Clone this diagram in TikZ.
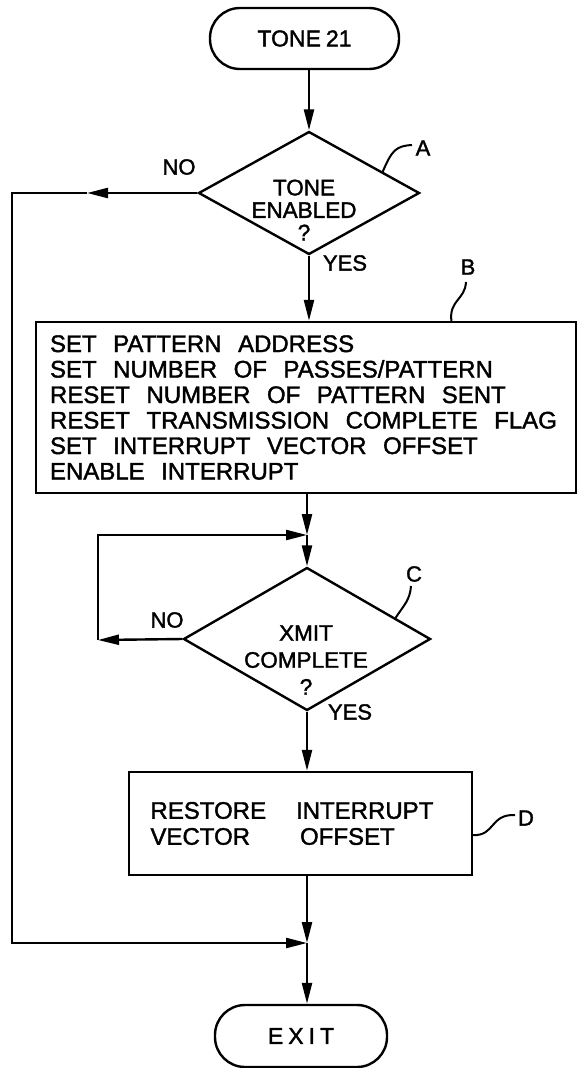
\documentclass[tikz,border=0pt]{standalone}
\usepackage{fontspec}
\setmainfont[FakeBold=1.6]{Liberation Sans}
\usetikzlibrary{arrows.meta,shapes.geometric,calc}
\newcommand{\widesp}{\spaceskip=16.5pt plus 4pt minus 2pt\relax}
\begin{document}
\begin{tikzpicture}[x=1pt,y=-1pt,line width=2.4pt,line join=miter,
  arr/.style={-{Triangle[length=21pt,width=10pt]}},
  term/.style={draw,rounded corners=30pt,inner sep=0pt,font=\fontsize{23}{26}\selectfont},
  dec/.style={draw,diamond,inner sep=0pt},
  dectext/.style={align=center,inner sep=0pt},
  proc/.style={draw,rectangle,align=left},
  lbl/.style={inner sep=0pt,font=\fontsize{22}{24}\selectfont},
  leader/.style={line width=2pt}]
\useasboundingbox (0,0) rectangle (580,1068);
% nodes
\node[term,minimum width=189pt,minimum height=61pt] (start) at (304.5,38.5) {TONE\hspace{5pt}21};
\node[dec,minimum width=221pt,minimum height=123pt] (A) at (309,193) {};
\node[dectext,font=\fontsize{22.5}{22.5}\selectfont] (At) at (304,210) {TONE\\ENABLED\\?};
\node[proc,minimum height=171pt,text width=512pt,inner xsep=14pt,inner ysep=0pt,
      font=\fontsize{24}{25.5}\selectfont] (B) at (306,407.5)
  {\widesp SET PATTERN ADDRESS\\
   SET NUMBER OF PASSES/PATTERN\\
   RESET NUMBER OF PATTERN SENT\\
   RESET TRANSMISSION COMPLETE FLAG\\
   SET INTERRUPT VECTOR OFFSET\\
   ENABLE INTERRUPT};
\coordinate (J1) at (307,535);
\node[dec,minimum width=247pt,minimum height=143pt] (C) at (307,639) {};
\node[dectext,font=\fontsize{22.5}{27}\selectfont] (Ct) at (306,660) {XMIT\\COMPLETE\\?};
\node[proc,minimum height=103pt,text width=300pt,inner xsep=21.5pt,inner ysep=0pt,
      font=\fontsize{24}{26}\selectfont] (D) at (300.5,823.5)
  {RESTORE\hspace{30pt}INTERRUPT\\VECTOR\hspace{50pt}OFFSET};
\coordinate (J2) at (307,943);
\node[term,minimum width=172pt,minimum height=62pt] (end) at (301,1036)
  {E\hspace{5pt}X\hspace{5pt}I\hspace{5pt}T};
% labels
\node[lbl] (noA) at (179,167) {NO};
\node[lbl] (yesA) at (345,263) {YES};
\node[lbl] (labA) at (423,148) {A};
\node[lbl] (labB) at (468,267) {B};
\node[lbl] (noC) at (167,620) {NO};
\node[lbl] (yesC) at (350,712) {YES};
\node[lbl] (labC) at (414,574) {C};
\node[lbl] (labD) at (526,818) {D};
% helper coordinates
\coordinate (nA) at (87,193);
\coordinate (ltop) at (12,193);
\coordinate (lbot) at (12,943);
\coordinate (cC) at (98,640);
\coordinate (cCtop) at (98,535);
% connectors
\draw[arr] (start.south -| A.north) -- (A.north);
\draw[arr] (A.south) -- (A.south |- B.north);
\draw[arr] (B.south -| J1) -- (J1);
\draw[arr] (J1) -- (C.north);
\draw[arr] (C.west) -- (cC);
\draw[arr] (cC) -- (cCtop) -- (J1);
\draw[arr] (C.south) -- (C.south |- D.north);
\draw[arr] (D.south -| J2) -- (J2);
\draw[arr] (J2) -- (J2 |- end.north);
\draw[arr] (A.west) -- (nA);
\draw[arr] (nA) -- (ltop) -- (lbot) -- (J2);
% leaders
\draw[leader] ($(A.north)!0.66!(A.east)$) .. controls (392,150) and (396,146) .. (412,145);
\draw[leader] ($(B.north west)!0.768!(B.north east)$) .. controls (449,300) and (465,300) .. (466,282);
\draw[leader] ($(C.north)!0.71!(C.east)$) .. controls (404,605) and (410,600) .. (411,586);
\draw[leader] ($(D.north east)!0.61!(D.south east)$) .. controls (495,836) and (490,814) .. (515,815);
\end{tikzpicture}
\end{document}
